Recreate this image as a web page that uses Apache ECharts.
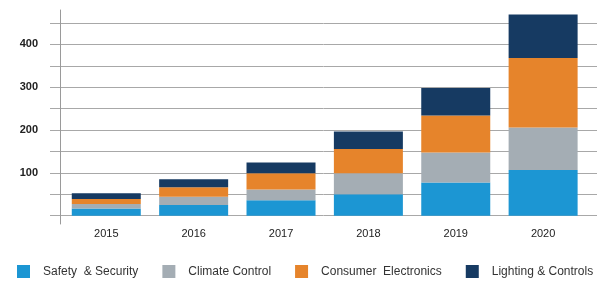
<!DOCTYPE html>
<html>
<head>
<meta charset="utf-8">
<script src="https://cdn.jsdelivr.net/npm/echarts@6/dist/echarts.min.js"></script>
<style>
html, body { margin: 0; padding: 0; background: #fff; }
#chart { width: 609px; height: 282px; }
</style>
</head>
<body>
<div id="chart"></div>
<script>
// years on the x axis
var years = ['2015', '2016', '2017', '2018', '2019', '2020'];

// stacked segments, bottom to top
var safety   = [17, 25, 36, 50, 77, 106];
var climate  = [10, 19, 25, 49, 70, 99];
var consumer = [12, 22, 38, 56, 86, 162];
var lighting = [13, 19, 25, 41, 64, 101];

var seriesNames = ['Safety  & Security', 'Climate Control', 'Consumer  Electronics', 'Lighting & Controls'];
var colors = ['#1c96d3', '#a4adb4', '#e6842b', '#163a62'];

var font = 'Liberation Sans, Arial, sans-serif';

function bar(name, values) {
	return {
		name: name,
		type: 'bar',
		stack: 'total',
		xAxisIndex: 1,
		yAxisIndex: 1,
		barWidth: 69,
		clip: false,
		data: values
	};
}

var option = {
	animation: false,
	color: colors,
	legend: {
		left: 12,
		top: 260,
		icon: 'rect',
		itemWidth: 13,
		itemHeight: 13,
		itemGap: 24,
		textStyle: { fontFamily: font, fontSize: 12, color: '#333', padding: [0, 0, 0, 8] },
		data: seriesNames
	},
	grid: [
		// wide grid only for the grid lines and y labels
		{ left: 50, right: 12, top: 23, bottom: 66.3 },
		// bars; a bit taller so the y axis line runs past the grid lines
		{ left: 62.6, right: 22.2, top: 10, bottom: 58 }
	],
	xAxis: [
		{ gridIndex: 0, type: 'category', data: years, show: false },
		{
			gridIndex: 1,
			type: 'category',
			data: years,
			axisLine: { show: false },
			axisTick: { show: false },
			axisLabel: { margin: 4, fontFamily: font, fontSize: 11, color: '#222' }
		}
	],
	yAxis: [
		{
			gridIndex: 0,
			type: 'value',
			min: 0,
			max: 450,
			interval: 50,
			axisLine: { show: false },
			axisTick: { show: false },
			splitLine: { lineStyle: { color: '#a8a8a8', width: 1 } },
			axisLabel: {
				margin: 12,
				padding: [6, 0, 0, 0],
				fontFamily: font,
				fontSize: 11,
				fontWeight: 'bold',
				color: '#222',
				formatter: function (v) {
					return (v % 100 === 0 && v > 0 && v < 450) ? String(v) : '';
				}
			}
		},
		{
			gridIndex: 1,
			type: 'value',
			// same scale as the first axis (0 at the bottom grid line)
			min: -19.3,
			max: 478.4,
			offset: 2.6,
			axisLine: { show: true, onZero: false, lineStyle: { color: '#9a9a9a', width: 1 } },
			axisTick: { show: false },
			axisLabel: { show: false },
			splitLine: { show: false }
		}
	],
	series: [
		bar(seriesNames[0], safety),
		bar(seriesNames[1], climate),
		bar(seriesNames[2], consumer),
		bar(seriesNames[3], lighting)
	]
};

var myChart = echarts.init(document.getElementById('chart'));
myChart.setOption(option);
</script>
</body>
</html>
